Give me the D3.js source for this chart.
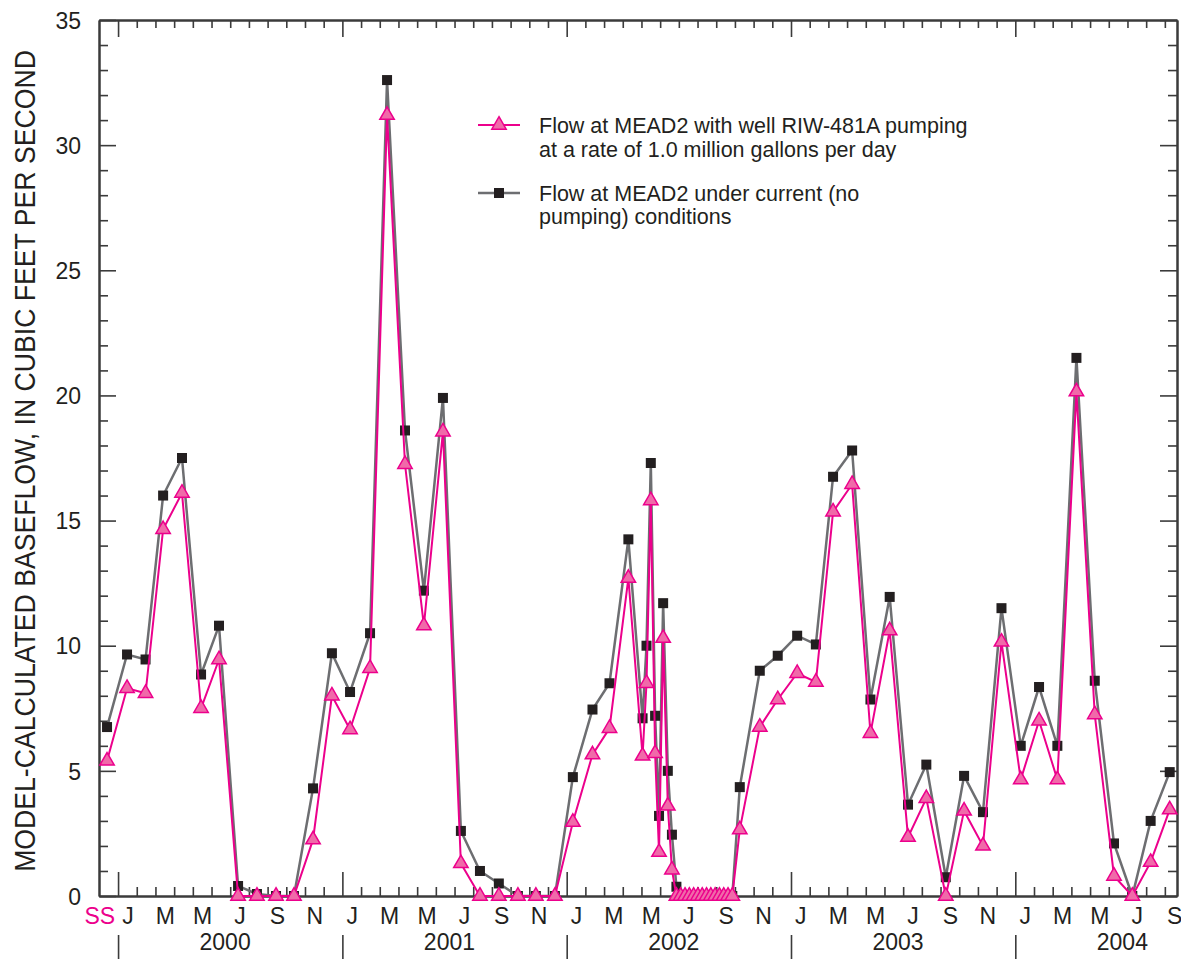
<!DOCTYPE html>
<html>
<head>
<meta charset="utf-8">
<script src="https://cdn.jsdelivr.net/npm/d3@7"></script>
<style>
  body { margin: 0; background: #fff; }
  svg text { font-family: "Liberation Sans Narrow", "Arial Narrow", "Liberation Sans", Arial, sans-serif; fill: #231f20; }
</style>
</head>
<body>
<div id="chart"></div>
<script>
// Time of each model result, in months since 1 January 2000 (first value is the steady-state "SS" run)
const months = [
    -0.59,
    0.48, 1.47, 2.41, 3.42, 4.44, 5.40, 6.42, 7.43, 8.45, 9.41, 10.43, 11.44,
    12.41, 13.48, 14.39, 15.35, 16.36, 17.38, 18.34, 19.36, 20.37, 21.39, 22.35, 23.37,
    24.33, 25.38, 26.29, 27.30, 28.06, 28.27, 28.50, 28.73, 28.94, 29.16, 29.41, 29.63, 29.87,
    30.10, 30.33, 30.56, 30.79, 31.02, 31.25, 31.48, 31.71, 31.94, 32.17, 32.40, 32.63, 32.86,
    33.26, 34.33, 35.29,
    36.33, 37.33, 38.25, 39.27, 40.25, 41.28, 42.26, 43.24, 44.28, 45.26, 46.27, 47.26,
    48.29, 49.27, 50.25, 51.27, 52.25, 53.28, 54.26, 55.24, 56.26
];

// Flow at MEAD2 under current (no pumping) conditions, ft3/s
const currentFlow = [
    6.75,
    9.65, 9.45, 16.0, 17.5, 8.85, 10.8, 0.4, 0.08, 0.0, 0.0, 4.3, 9.7,
    8.15, 10.5, 32.6, 18.6, 12.2, 19.9, 2.6, 1.0, 0.5, 0.0, 0.0, 0.0,
    4.75, 7.45, 8.5, 14.25, 7.1, 10.0, 17.3, 7.2, 3.2, 11.7, 5.0, 2.45, 0.37,
    0, 0, 0, 0, 0, 0, 0, 0, 0, 0, 0, 0, 0,
    4.35, 9.0, 9.6,
    10.4, 10.05, 16.75, 17.8, 7.85, 11.95, 3.65, 5.25, 0.75, 4.8, 3.35, 11.5,
    6.0, 8.35, 6.0, 21.5, 8.6, 2.1, 0.0, 3.0, 4.95
];

// Flow at MEAD2 with well RIW-481A pumping at 1.0 Mgal/d, ft3/s
const pumpingFlow = [
    5.4,
    8.3, 8.1, 14.65, 16.1, 7.5, 9.45, 0, 0, 0, 0, 2.25, 8.0,
    6.65, 9.1, 31.2, 17.25, 10.8, 18.55, 1.3, 0, 0, 0, 0, 0,
    2.95, 5.65, 6.7, 12.7, 5.6, 8.5, 15.8, 5.7, 1.75, 10.3, 3.6, 1.05, 0,
    0, 0, 0, 0, 0, 0, 0, 0, 0, 0, 0, 0, 0,
    2.65, 6.75, 7.85,
    8.9, 8.55, 15.35, 16.45, 6.5, 10.6, 2.35, 3.9, 0, 3.4, 2.0, 10.15,
    4.65, 7.0, 4.65, 20.15, 7.25, 0.8, 0, 1.35, 3.45
];

const monthLabels = ['J', 'M', 'M', 'J', 'S', 'N'];
const years = [2000, 2001, 2002, 2003, 2004];
const yMajorTicks = [0, 5, 10, 15, 20, 25, 30, 35];
const legendPumping = ['Flow at MEAD2 with well RIW-481A pumping', 'at a rate of 1.0 million gallons per day'];
const legendCurrent = ['Flow at MEAD2 under current (no', 'pumping) conditions'];

const pink = '#ec008c';
const pinkFill = '#f06aa9';
const gray = '#6d6e71';
const dark = '#231f20';
const axisColor = '#3b3b3b';

// Define the SVG dimensions
const W = 1181, H = 959;
const margin = { top: 20, right: 4, bottom: 63, left: 99 };
const plotRight = W - margin.right;
const plotBottom = H - margin.bottom;

const svg = d3.select('#chart')
    .append('svg')
    .attr('width', W)
    .attr('height', H);

// Scales
const xScale = d3.scaleLinear()
    .domain([-1.02, 56.65])
    .range([margin.left, plotRight]);

const yScale = d3.scaleLinear()
    .domain([0, 35])
    .range([plotBottom, margin.top]);

const allMonths = d3.range(1, 57);
const monthTicks = allMonths.filter(m => m % 12 !== 0);
const yearTicks = years.map((y, i) => i * 12);
const minorY = d3.range(0, 36).filter(v => v % 5 !== 0);

// helper to style an axis group
const styleAxis = g => {
    g.selectAll('.domain').attr('stroke', axisColor).attr('stroke-width', 2);
    g.selectAll('.tick line').attr('stroke', axisColor).attr('stroke-width', 1.6);
    g.selectAll('text').style('font-size', '23px').attr('fill', dark);
};

// Left axis: minor ticks, then major ticks with labels
svg.append('g')
    .attr('transform', `translate(${margin.left},0)`)
    .call(d3.axisLeft(yScale).tickValues(minorY).tickSize(-9).tickSizeOuter(0).tickFormat(''))
    .call(styleAxis);
svg.append('g')
    .attr('transform', `translate(${margin.left},0)`)
    .call(d3.axisLeft(yScale).tickValues(yMajorTicks).tickSize(-17).tickSizeOuter(0).tickPadding(18))
    .call(styleAxis)
    .call(g => g.selectAll('text').attr('dy', '0.36em'));

// Right axis (ticks only)
svg.append('g')
    .attr('transform', `translate(${plotRight},0)`)
    .call(d3.axisRight(yScale).tickValues(minorY).tickSize(-9).tickSizeOuter(0).tickFormat(''))
    .call(styleAxis);
svg.append('g')
    .attr('transform', `translate(${plotRight},0)`)
    .call(d3.axisRight(yScale).tickValues(yMajorTicks).tickSize(-17).tickSizeOuter(0).tickFormat(''))
    .call(styleAxis);

// Top axis (ticks only)
svg.append('g')
    .attr('transform', `translate(0,${margin.top})`)
    .call(d3.axisTop(xScale).tickValues(monthTicks).tickSize(-8).tickSizeOuter(0).tickFormat(''))
    .call(styleAxis);
svg.append('g')
    .attr('transform', `translate(0,${margin.top})`)
    .call(d3.axisTop(xScale).tickValues(yearTicks).tickSize(-17).tickSizeOuter(0).tickFormat(''))
    .call(styleAxis);

// Bottom axis: month ticks and taller year ticks
svg.append('g')
    .attr('transform', `translate(0,${plotBottom})`)
    .call(d3.axisBottom(xScale).tickValues(monthTicks).tickSize(-9).tickSizeOuter(0).tickFormat(''))
    .call(styleAxis);
svg.append('g')
    .attr('transform', `translate(0,${plotBottom})`)
    .call(d3.axisBottom(xScale).tickValues(yearTicks).tickSize(-24).tickSizeOuter(0).tickFormat(''))
    .call(styleAxis);

// Month labels, centred in each labelled month
const labelPos = [];
years.forEach((yr, i) => {
    monthLabels.forEach((lab, j) => {
        const m = i * 12 + j * 2 + 0.5;
        if (m < xScale.domain()[1]) labelPos.push({ m, lab });
    });
});
svg.append('g')
    .attr('transform', `translate(0,${plotBottom})`)
    .call(d3.axisBottom(xScale).tickValues(labelPos.map(d => d.m)).tickSize(0).tickPadding(12)
        .tickFormat((d, i) => labelPos[i].lab))
    .call(styleAxis)
    .call(g => g.select('.domain').remove());

// SS label for the steady-state point
svg.append('text')
    .attr('x', xScale(0) - 3)
    .attr('y', plotBottom + 12)
    .attr('dy', '0.71em')
    .attr('text-anchor', 'end')
    .style('font-size', '23px')
    .style('fill', pink)
    .text('SS');

// Year separators and year labels below the month labels
svg.append('g')
    .attr('transform', `translate(0,${plotBottom + 39})`)
    .call(d3.axisBottom(xScale).tickValues(yearTicks).tickSize(24).tickSizeOuter(0).tickFormat(''))
    .call(styleAxis)
    .call(g => g.select('.domain').remove());
svg.append('g')
    .attr('transform', `translate(0,${plotBottom + 38})`)
    .call(d3.axisBottom(xScale).tickValues(yearTicks.map(m => m + 5.7)).tickSize(0).tickPadding(0)
        .tickFormat((d, i) => years[i]))
    .call(styleAxis)
    .call(g => g.select('.domain').remove());

// Y axis title, squeezed along its length to look like the condensed original typeface
const titleY = (margin.top + plotBottom) / 2 + 3;
const yTitle = svg.append('text')
    .attr('text-anchor', 'middle')
    .style('font-size', '30px')
    .text('MODEL-CALCULATED BASEFLOW, IN CUBIC FEET PER SECOND');
const titleLen = yTitle.node().getComputedTextLength();
yTitle.attr('transform', `translate(35,${titleY}) rotate(-90) scale(${822 / titleLen},1)`);

// Build records from the arrays
const data = months.map((m, i) => ({ m, current: currentFlow[i], pumping: pumpingFlow[i] }));

const triangle = d3.symbol().type(d3.symbolTriangle).size(90);

// Current-conditions series
svg.append('path')
    .datum(data)
    .attr('fill', 'none')
    .attr('stroke', gray)
    .attr('stroke-width', 2.5)
    .attr('d', d3.line().x(d => xScale(d.m)).y(d => yScale(d.current)));

svg.append('g')
    .selectAll('rect')
    .data(data)
    .join('rect')
    .attr('x', d => xScale(d.m) - 5)
    .attr('y', d => yScale(d.current) - 5)
    .attr('width', 10)
    .attr('height', 10)
    .attr('fill', dark);

// Pumping series
svg.append('path')
    .datum(data)
    .attr('fill', 'none')
    .attr('stroke', pink)
    .attr('stroke-width', 2)
    .attr('d', d3.line().x(d => xScale(d.m)).y(d => yScale(d.pumping)));

svg.append('g')
    .selectAll('path')
    .data(data)
    .join('path')
    .attr('transform', d => `translate(${xScale(d.m)},${yScale(d.pumping)})`)
    .attr('d', triangle())
    .attr('fill', pinkFill)
    .attr('stroke', pink)
    .attr('stroke-width', 1.5);

// Legend
const legend = svg.append('g').attr('transform', 'translate(478,125)');

legend.append('line')
    .attr('x1', 0).attr('x2', 42).attr('y1', 0).attr('y2', 0)
    .attr('stroke', pink).attr('stroke-width', 2);
legend.append('path')
    .attr('transform', 'translate(21,0)')
    .attr('d', triangle())
    .attr('fill', pinkFill).attr('stroke', pink).attr('stroke-width', 1.5);
legend.append('g')
    .selectAll('text')
    .data(legendPumping)
    .join('text')
    .attr('x', 61)
    .attr('y', (d, i) => i * 24)
    .attr('dy', '0.36em')
    .style('font-size', '21.5px')
    .text(d => d);

legend.append('line')
    .attr('x1', 0).attr('x2', 42).attr('y1', 68).attr('y2', 68)
    .attr('stroke', gray).attr('stroke-width', 2.5);
legend.append('rect')
    .attr('x', 16).attr('y', 63).attr('width', 10).attr('height', 10)
    .attr('fill', dark);
legend.append('g')
    .selectAll('text')
    .data(legendCurrent)
    .join('text')
    .attr('x', 61)
    .attr('y', (d, i) => 68 + i * 23)
    .attr('dy', '0.36em')
    .style('font-size', '21.5px')
    .text(d => d);
</script>
</body>
</html>
